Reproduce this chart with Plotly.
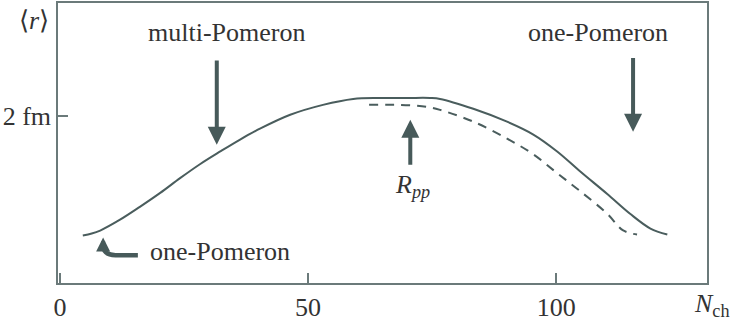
import plotly.graph_objects as go

# Solid curve: <r> vs N_ch
n_solid = [4.6, 6.4, 8.1, 12.1, 16.1, 20.2, 24.2, 28.2, 32.3, 36.3, 40.3, 46.4, 53.0, 59.1, 64.5, 70.0, 74.6, 76.6, 83.3, 90.1, 95.4, 100.2, 104.8, 110.3, 114.9, 119.0, 122.4]
r_solid = [0.999, 1.015, 1.040, 1.131, 1.239, 1.356, 1.480, 1.597, 1.704, 1.804, 1.895, 2.012, 2.095, 2.145, 2.153, 2.153, 2.153, 2.145, 2.062, 1.954, 1.846, 1.704, 1.538, 1.347, 1.181, 1.057, 1.007]

# Dashed curve
n_dash = [62.3, 68.5, 74.0, 76.6, 83.3, 90.1, 95.4, 100.2, 104.8, 110.3, 113.5, 116.3]
r_dash = [2.095, 2.095, 2.078, 2.053, 1.954, 1.812, 1.680, 1.522, 1.372, 1.181, 1.041, 1.007]

x_ticks = [0, 50, 100]
x_ticktext = ["0", "50", "100"]
y_ticks = [2]
y_ticktext = ["2 fm"]

CURVE = "#4a5d5d"
ARROW = "#475a5a"
AXIS = "#6b7a7a"
TEXT = "#333333"
FONT = "Liberation Serif"
FS = 26

fig = go.Figure()
fig.add_trace(go.Scatter(x=n_solid, y=r_solid, mode="lines",
                         line=dict(color=CURVE, width=2, shape="spline", smoothing=1.0),
                         hoverinfo="skip", showlegend=False))
fig.add_trace(go.Scatter(x=n_dash, y=r_dash, mode="lines",
                         line=dict(color=CURVE, width=2, dash="9px,7px", shape="spline", smoothing=1.0),
                         hoverinfo="skip", showlegend=False))

ann = []
def arrow(x, y, ax, ay, size=0.9):
    ann.append(dict(x=x, y=y, ax=ax, ay=ay, xref="x", yref="y", axref="x", ayref="y",
                    showarrow=True, arrowhead=2, arrowsize=size, arrowwidth=4,
                    arrowcolor=ARROW, text=""))

# multi-Pomeron arrow (down)
arrow(31.6, 1.76, 31.6, 2.48)
# one-Pomeron arrow top-right (down)
arrow(115.5, 1.87, 115.5, 2.50)
# R_pp arrow (up)
arrow(70.6, 1.97, 70.6, 1.58)
# bottom-left bent arrow head (up)
arrow(8.7, 0.982, 8.7, 0.90, size=0.7)

def text(t, x, y, xanchor="center", xref="x", yref="y", size=FS):
    ann.append(dict(text=t, x=x, y=y, xref=xref, yref=yref, showarrow=False,
                    xanchor=xanchor, yanchor="middle",
                    font=dict(family=FONT, size=size, color=TEXT)))

text("multi-Pomeron", 33.5, 2.70)
text("one-Pomeron", 108.5, 2.70)
text("one-Pomeron", 17.7, 0.866, xanchor="left")
text("<i>R<sub>pp</sub></i>", 71.0, 1.414)
text("<i>N</i><sub>ch</sub>", 1.008, -0.078, xref="paper", yref="paper")
text("⟨<i>r</i>⟩", -0.037, 0.936, xref="paper", yref="paper")

fig.update_layout(annotations=ann)

# bent shaft of the bottom-left arrow
fig.add_shape(type="path",
              path="M 15.7,0.833 L 11.2,0.833 Q 8.7,0.833 8.7,0.92",
              xref="x", yref="y", line=dict(color=ARROW, width=4.5))

fig.update_layout(
    width=734, height=327,
    margin=dict(l=58, r=27, t=1, b=44),
    paper_bgcolor="white", plot_bgcolor="white",
    font=dict(family=FONT, size=FS, color=TEXT),
    xaxis=dict(range=[-0.4, 130.4], tickvals=x_ticks, ticktext=x_ticktext,
               ticks="inside", ticklen=10, tickwidth=1.5, tickcolor=AXIS,
               showline=True, linecolor=AXIS, linewidth=1.5, mirror=True,
               showgrid=False, zeroline=False,
               tickfont=dict(family=FONT, size=FS, color=TEXT)),
    yaxis=dict(range=[0.6, 2.95], tickvals=y_ticks, ticktext=y_ticktext,
               ticks="inside", ticklen=10, tickwidth=1.5, tickcolor=AXIS,
               showline=True, linecolor=AXIS, linewidth=1.5, mirror=True,
               showgrid=False, zeroline=False,
               tickfont=dict(family=FONT, size=FS, color=TEXT)),
)

fig.write_html("out.html", config={"displayModeBar": False},
               post_script="document.body.style.margin='0';")
